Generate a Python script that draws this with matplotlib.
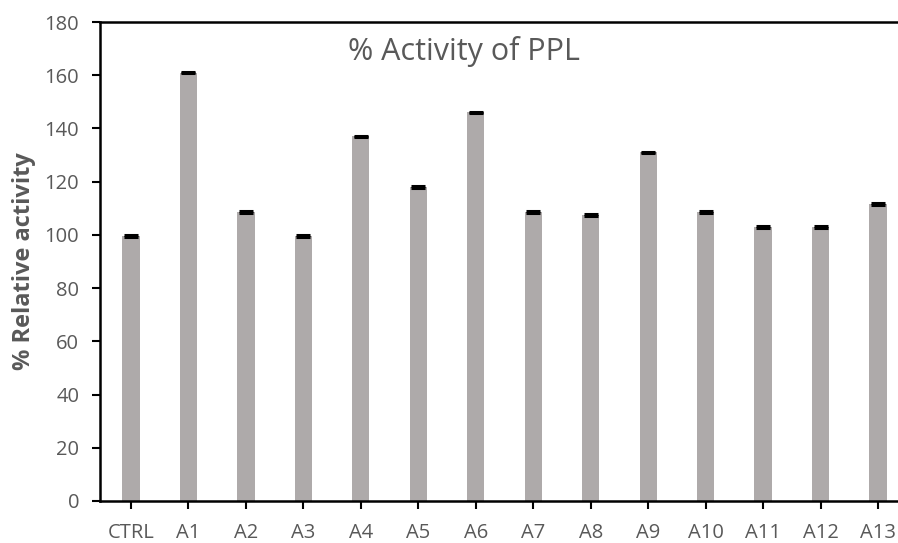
import matplotlib
matplotlib.use("Agg")
import matplotlib.pyplot as plt

categories = ["CTRL", "A1", "A2", "A3", "A4", "A5", "A6", "A7",
              "A8", "A9", "A10", "A11", "A12", "A13"]
activity = [99.5, 161, 108.5, 99.5, 137, 118, 146, 108.5,
            107.5, 131, 108.5, 103, 103, 111.5]
errors = [0.3, 0.3, 0.3, 0.3, 0.3, 0.3, 0.3, 0.3,
          0.3, 0.3, 0.3, 0.3, 0.3, 0.3]


def main():
    plt.rcParams['font.family'] = ['Open Sans', 'DejaVu Sans']
    fig = plt.figure(figsize=(8.98, 5.43), dpi=100)
    ax = fig.add_axes([100 / 898, 42 / 543, 809 / 898, 479 / 543])

    x = list(range(len(categories)))
    ax.bar(x, activity, width=0.3, color="#aeaaaa", zorder=2)
    ax.errorbar(x, activity, yerr=errors, fmt="none", ecolor="black",
                elinewidth=3, capsize=5, capthick=2.2, zorder=3)

    ax.set_xlim(-0.54, 13.54)
    ax.set_ylim(0, 180)
    ax.set_yticks(range(0, 181, 20))
    ax.set_xticks(x)
    ax.set_xticklabels(categories)

    for s in ["left", "bottom", "top"]:
        ax.spines[s].set_linewidth(1.8)
        ax.spines[s].set_color("black")
    ax.spines["right"].set_visible(False)

    ax.tick_params(axis="both", direction="out", length=6, width=1.5,
                   labelsize=14.5, labelcolor="#595959", color="black")
    ax.tick_params(axis="x", pad=10)
    ax.tick_params(axis="y", pad=9)
    ax.set_ylabel("% Relative activity", fontsize=17, fontweight="bold",
                  color="#595959", labelpad=6)

    ax.text(0.45, 0.97, "% Activity of PPL", transform=ax.transAxes,
            ha="center", va="top", fontsize=22, color="#595959")

    fig.savefig("out.png", dpi=100)


if __name__ == "__main__":
    main()
